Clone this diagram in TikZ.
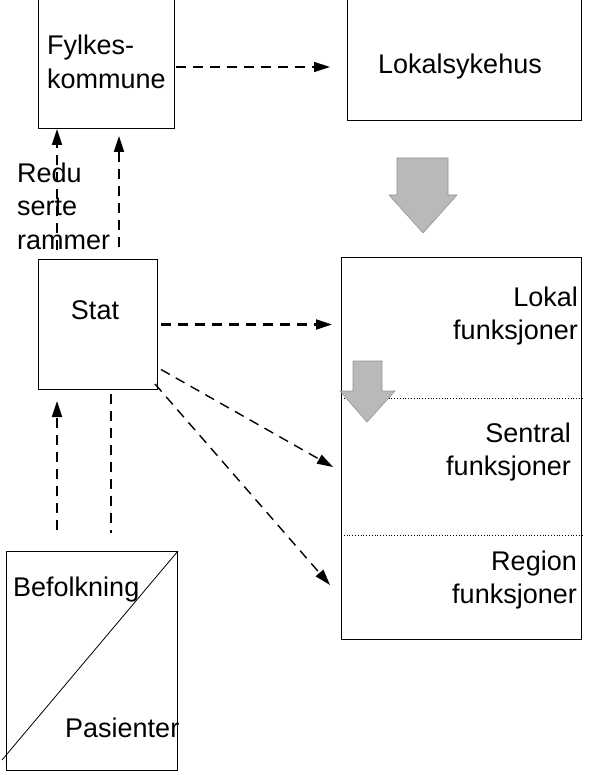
\documentclass[tikz,border=0pt]{standalone}
\usepackage{fontspec}
\setmainfont{Liberation Sans}
\usetikzlibrary{arrows.meta}

\begin{document}
\begin{tikzpicture}[
  x=1pt, y=-1pt,
  every node/.style={font=\fontsize{27}{33.5}\selectfont, inner sep=0pt},
  box/.style={draw, line width=1pt, anchor=north west},
  flow/.style={-{Triangle[length=16pt, width=10pt]}, line width=2.2pt, dash pattern=on 10pt off 7pt},
  slim/.style={flow, line width=1.4pt},
  sep/.style={dotted, line width=0.8pt},
  fat/.style={fill=gray!55, draw=gray!85, line width=0.6pt}
]
\path[use as bounding box] (0,0) rectangle (590,775);
\clip (0,0) rectangle (590,775);

% boxes
\node[box, minimum width=136pt, minimum height=133pt, align=left] (fylke) at (38,-5) {Fylkes-\\kommune};
\node[box, minimum width=234pt, minimum height=125pt] (lokal) at (347,-5) {};
\node[box, minimum width=119pt, minimum height=130pt] (stat) at (38,259) {};
\node[box, minimum width=240pt, minimum height=382pt] (funk) at (341,257) {};
\node[box, minimum width=171pt, minimum height=219pt] (befolk) at (6,551) {};

% texts
\node (lokaltxt) at (460,67) {Lokalsykehus};
\node (stattxt) at (95,310) {Stat};
\node[anchor=west, align=left] (rammetxt) at (17,206) {Redu\\serte\\rammer};
\node[anchor=east, align=right] (lokalf) at (578,316) {Lokal\\funksjoner};
\node[anchor=east, align=right] (sentralf) at (571,452) {Sentral\\funksjoner};
\node[anchor=east, align=right] (regionf) at (577,580) {Region\\funksjoner};
\node[anchor=west] (befolktxt) at (13,590) {Befolkning};
\node[anchor=west] (pasienttxt) at (65,728) {Pasienter};

% dividers in the right box
\draw[sep] ([yshift=-141pt]funk.north west) -- ([yshift=-141pt]funk.north east);
\draw[sep] ([yshift=-278pt]funk.north west) -- ([yshift=-278pt]funk.north east);

% split of befolkning / pasienter
\coordinate (cutend) at (2,760);
\draw[line width=0.8pt] (befolk.north east) -- (cutend);

% connectors
\draw[slim, shorten <=1pt, shorten >=17pt] (fylke.east |- lokaltxt) -- (lokal.west |- lokaltxt);
\draw[flow, shorten <=9pt] ([xshift=19pt]stat.north west) -- ([xshift=19pt]fylke.south west);
\draw[flow, shorten <=12pt, shorten >=7pt] ([xshift=81pt]stat.north west) -- ([xshift=81pt]fylke.south west);
\draw[flow, shorten <=3pt, shorten >=9pt] (stat.east) -- (funk.west |- stat.east);
\coordinate (tosentral) at (333,467);
\coordinate (toregion) at (330,585);
\draw[slim] ([xshift=3pt, yshift=-45pt]stat.east) -- (tosentral);
\draw[slim] ([xshift=-3pt, yshift=6pt]stat.south east) -- (toregion);
\draw[flow, shorten <=21pt, shorten >=11pt] ([xshift=51pt]befolk.north west) -- ([xshift=19pt]stat.south west);
\draw[flow, -, shorten <=4pt, shorten >=18pt] ([xshift=73pt]stat.south west) -- ([xshift=105pt]befolk.north west);

% block arrows
\draw[fat] (397,158) -- (448,158) -- (448,195) -- (457,195) -- (423,233) -- (389,195) -- (397,195) -- cycle;
\draw[fat] (353,361) -- (382,361) -- (382,391) -- (395,391) -- (367,422) -- (340,391) -- (353,391) -- cycle;
\end{tikzpicture}
\end{document}
